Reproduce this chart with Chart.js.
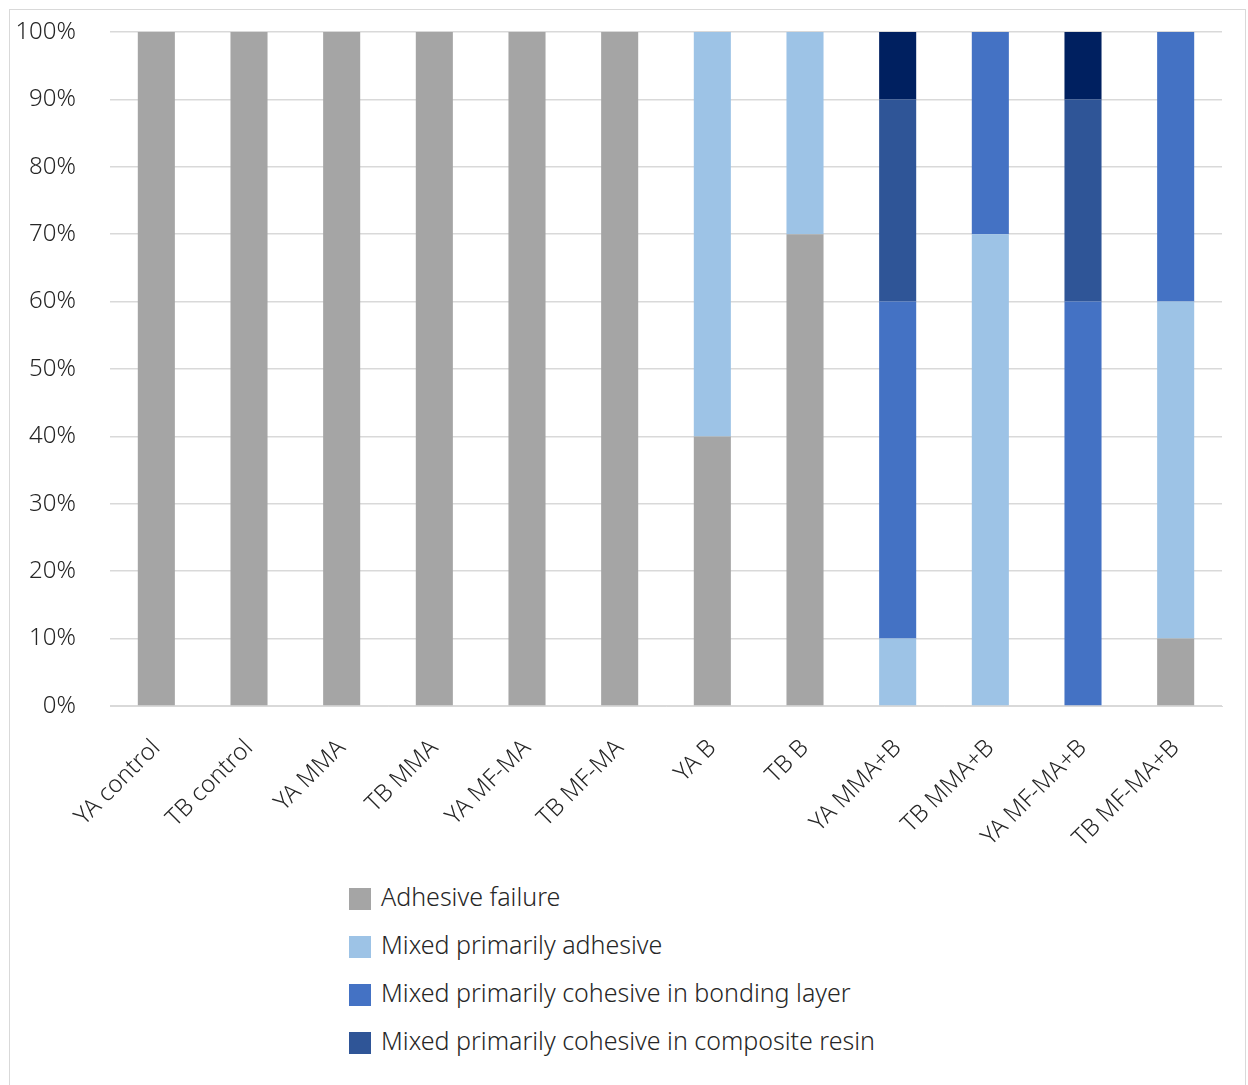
<!DOCTYPE html>
<html>
<head>
<meta charset="utf-8">
<script src="https://cdn.jsdelivr.net/npm/chart.js@4.4.1/dist/chart.umd.min.js"></script>
<style>
body{margin:0;background:#fff;font-family:"Noto Sans",sans-serif;}
#frame{position:absolute;left:9px;top:9px;width:1235px;height:1090px;border:1px solid #d9d9d9;}
#wrap{position:absolute;left:0;top:0;width:1235px;height:850px;}
#legend{position:absolute;left:339px;top:862px;list-style:none;margin:0;padding:0;}
#legend li{height:48px;display:flex;align-items:center;font-size:25px;color:#262626;font-weight:300;}
#legend span{display:inline-block;width:22px;height:22px;margin-right:10px;margin-top:6px;}
</style>
</head>
<body>
<div id="frame">
  <div id="wrap"><canvas id="grafica"></canvas></div>
  <ul id="legend"></ul>
</div>
<script>
const grupos=["YA control","TB control","YA MMA","TB MMA","YA MF-MA","TB MF-MA","YA B","TB B","YA MMA+B","TB MMA+B","YA MF-MA+B","TB MF-MA+B"];
const adhesiva=[100,100,100,100,100,100,40,70,0,0,0,10];
const mixtaAdhesiva=[0,0,0,0,0,0,60,30,10,70,0,50];
const cohesivaAdhesivo=[0,0,0,0,0,0,0,0,50,30,60,40];
const cohesivaResina=[0,0,0,0,0,0,0,0,30,0,30,0];
const cohesivaTotal=[0,0,0,0,0,0,0,0,10,0,10,0];
const yTicks=[0,10,20,30,40,50,60,70,80,90,100];

const series=[
  {label:"Adhesive failure",data:adhesiva,backgroundColor:"#a5a5a5",legend:true},
  {label:"Mixed primarily adhesive",data:mixtaAdhesiva,backgroundColor:"#9dc3e6",legend:true},
  {label:"Mixed primarily cohesive in bonding layer",data:cohesivaAdhesivo,backgroundColor:"#4472c4",legend:true},
  {label:"Mixed primarily cohesive in composite resin",data:cohesivaResina,backgroundColor:"#2f5597",legend:true},
  {label:"Cohesive failure",data:cohesivaTotal,backgroundColor:"#002060",legend:false}
];

const ctx=document.getElementById("grafica");
new Chart(ctx,{
  type:"bar",
  data:{
    labels:grupos,
    datasets:series.map(s=>({label:s.label,data:s.data,backgroundColor:s.backgroundColor,borderWidth:0,barPercentage:1,categoryPercentage:0.4}))
  },
  options:{
    responsive:true,
    maintainAspectRatio:false,
    animation:false,
    layout:{padding:{top:22,right:23,left:0,bottom:0}},
    plugins:{legend:{display:false},tooltip:{enabled:false}},
    scales:{
      x:{
        stacked:true,
        grid:{display:false,drawTicks:false},
        border:{color:"#d9d9d9",width:1},
        ticks:{color:"#262626",font:{family:"Noto Sans",size:24,weight:300},minRotation:45,maxRotation:45,padding:28,autoSkip:false},
        afterFit:s=>{s.height=154;s.paddingTop=0;s.paddingBottom=0;}
      },
      y:{
        stacked:true,min:0,max:100,
        afterBuildTicks:s=>{s.ticks=yTicks.map(v=>({value:v}));},
        grid:{color:"#d9d9d9",lineWidth:1.5,drawTicks:false},
        border:{display:false},
        ticks:{color:"#262626",font:{family:"Noto Sans",size:24,weight:300},padding:34,callback:v=>v+"%"},
        afterFit:s=>{s.width=100;s.paddingTop=0;s.paddingBottom=0;}
      }
    }
  }
});

const ul=document.getElementById("legend");
series.filter(s=>s.legend).forEach(s=>{
  const li=document.createElement("li");
  const box=document.createElement("span");
  box.style.background=s.backgroundColor;
  li.appendChild(box);
  li.appendChild(document.createTextNode(s.label));
  ul.appendChild(li);
});
</script>
</body>
</html>
